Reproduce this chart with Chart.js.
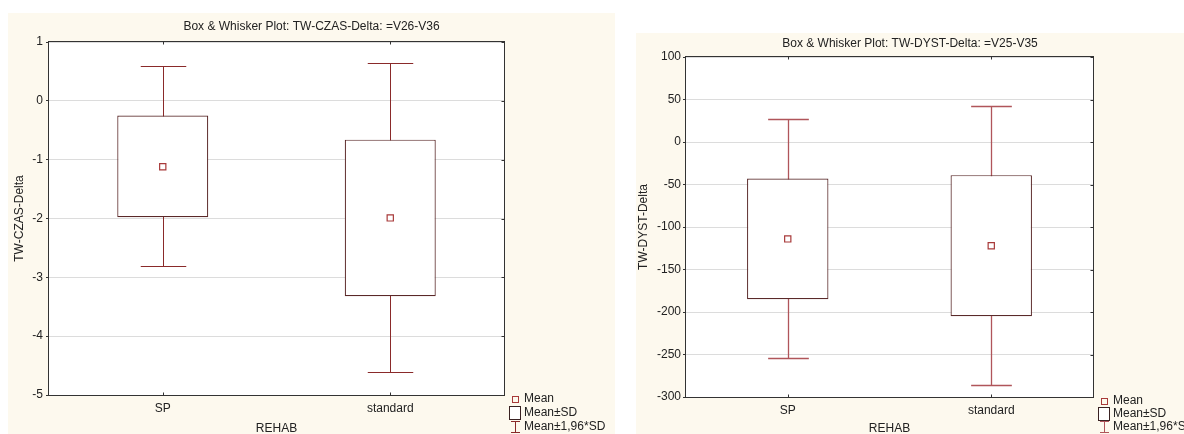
<!DOCTYPE html>
<html>
<head>
<meta charset="utf-8">
<title>Box &amp; Whisker Plots</title>
<script src="https://cdn.jsdelivr.net/npm/chart.js@4.4.1/dist/chart.umd.min.js"></script>
<style>
  html, body { margin: 0; padding: 0; background: #fff; }
  body { width: 1184px; height: 434px; position: relative; overflow: hidden; }
  .panel { position: absolute; }
  #panelCzas { left: 8px; top: 13px; }
  #panelDyst { left: 636px; top: 33px; }
</style>
</head>
<body>
<div class="panel" id="panelCzas"><canvas id="czasChart" width="607" height="421"></canvas></div>
<div class="panel" id="panelDyst"><canvas id="dystChart" width="548" height="401"></canvas></div>
<script>
const categories = ['SP', 'standard'];

// TW-CZAS-Delta: mean, mean±SD, mean±1.96*SD
const czasMean = [-1.12, -1.99];
const czasSdLow = [-1.98, -3.32];
const czasSdHigh = [-0.25, -0.66];
const czasCiLow = [-2.81, -4.61];
const czasCiHigh = [0.59, 0.64];
const czasTicks = [-5, -4, -3, -2, -1, 0, 1];

// TW-DYST-Delta
const dystMean = [-114, -122];
const dystSdLow = [-185, -205];
const dystSdHigh = [-43, -39];
const dystCiLow = [-254, -286];
const dystCiHigh = [27, 42];
const dystTicks = [-300, -250, -200, -150, -100, -50, 0, 50, 100];

const legendLabels = ['Mean', 'Mean±SD', 'Mean±1,96*SD'];

const FONT = "'Liberation Sans', Arial, sans-serif";
const TEXT = '#222222';
const CREAM = '#fdf9ee';
const FRAME = '#333333';
const MEAN_COLOR = '#a83a3a';

function makeBoxChart(id, cfg) {
    const font = { family: FONT, size: 12, weight: 'normal' };

    // cream panel with white plot area
    const panelBg = {
        id: 'panelBg',
        beforeDraw(chart) {
            const { ctx, chartArea: a } = chart;
            ctx.save();
            ctx.fillStyle = CREAM;
            ctx.fillRect(0, 0, chart.width, chart.height);
            ctx.fillStyle = '#ffffff';
            ctx.fillRect(a.left, a.top, a.right - a.left, a.bottom - a.top);
            ctx.restore();
        }
    };

    // whiskers drawn under the boxes, so the box fill hides the middle part
    const whiskers = {
        id: 'whiskers',
        beforeDatasetsDraw(chart) {
            const { ctx } = chart;
            const x = chart.scales.x, y = chart.scales.y;
            const bars = chart.getDatasetMeta(0).data;
            ctx.save();
            ctx.strokeStyle = cfg.whiskerColor;
            ctx.lineWidth = cfg.whiskerWidth;
            cfg.ciLow.forEach((lo, i) => {
                const cx = Math.round(x.getPixelForValue(i)) + 0.5;
                const half = bars[i].width / 4;
                const top = Math.round(y.getPixelForValue(cfg.ciHigh[i])) + 0.5;
                const bot = Math.round(y.getPixelForValue(lo)) + 0.5;
                ctx.beginPath();
                ctx.moveTo(cx, top); ctx.lineTo(cx, bot);
                ctx.moveTo(cx - half, top); ctx.lineTo(cx + half, top);
                ctx.moveTo(cx - half, bot); ctx.lineTo(cx + half, bot);
                ctx.stroke();
            });
            ctx.restore();
        }
    };

    // closed frame with small inward ticks
    const frame = {
        id: 'frame',
        afterDraw(chart) {
            const { ctx, chartArea: a } = chart;
            const x = chart.scales.x, y = chart.scales.y;
            const l = Math.round(a.left) - 0.5, r = Math.round(a.right) + 0.5;
            const t = Math.round(a.top) - 0.5, b = Math.round(a.bottom) + 0.5;
            ctx.save();
            ctx.strokeStyle = FRAME;
            ctx.lineWidth = 1;
            ctx.strokeRect(l, t, r - l, b - t);
            ctx.beginPath();
            categories.forEach((c, i) => {
                const px = Math.round(x.getPixelForValue(i)) + 0.5;
                ctx.moveTo(px, t); ctx.lineTo(px, t + 3);
                ctx.moveTo(px, b); ctx.lineTo(px, b - 3);
            });
            cfg.ticks.forEach(v => {
                const py = Math.round(y.getPixelForValue(v)) + 0.5;
                ctx.moveTo(r, py); ctx.lineTo(r - 3, py);
            });
            ctx.stroke();
            ctx.restore();
        }
    };

    const legend = {
        id: 'boxLegend',
        afterDraw(chart) {
            const { ctx, chartArea: a } = chart;
            const mx = Math.round(a.right) + 11;
            const tx = Math.round(a.right) + 20;
            const rows = legendLabels.map((_, i) => Math.round(a.bottom) + 4 + i * cfg.legendGap);
            ctx.save();
            ctx.lineWidth = 1;
            // Mean
            ctx.strokeStyle = MEAN_COLOR;
            ctx.strokeRect(mx - 2.5, rows[0] - 2.5, 6, 6);
            // Mean±SD
            ctx.fillStyle = '#ffffff';
            ctx.strokeStyle = '#3a2222';
            ctx.fillRect(mx - 5.5, rows[1] - 6.5, 11, 13);
            ctx.strokeRect(mx - 5.5, rows[1] - 6.5, 11, 13);
            // Mean±1,96*SD
            ctx.strokeStyle = cfg.whiskerColor;
            ctx.beginPath();
            ctx.moveTo(mx + 0.5, rows[2] - 6); ctx.lineTo(mx + 0.5, rows[2] + 6);
            ctx.moveTo(mx - 4, rows[2] - 5.5); ctx.lineTo(mx + 5, rows[2] - 5.5);
            ctx.moveTo(mx - 4, rows[2] + 5.5); ctx.lineTo(mx + 5, rows[2] + 5.5);
            ctx.stroke();
            ctx.fillStyle = TEXT;
            ctx.font = '12px ' + FONT;
            ctx.textAlign = 'left';
            ctx.textBaseline = 'middle';
            legendLabels.forEach((txt, i) => ctx.fillText(txt, tx, rows[i]));
            ctx.restore();
        }
    };

    const yMin = cfg.ticks[0];
    const yMax = cfg.ticks[cfg.ticks.length - 1];

    return new Chart(document.getElementById(id), {
        type: 'bar',
        data: {
            labels: categories,
            datasets: [
                {
                    type: 'bar',
                    label: 'Mean±SD',
                    data: cfg.sdLow.map((v, i) => [v, cfg.sdHigh[i]]),
                    backgroundColor: '#ffffff',
                    borderColor: cfg.boxColor,
                    borderWidth: 1.2,
                    borderSkipped: false,
                    barPercentage: 0.4,
                    categoryPercentage: 1,
                    order: 2
                },
                {
                    type: 'line',
                    label: 'Mean',
                    data: cfg.mean,
                    showLine: false,
                    pointStyle: 'rect',
                    pointRadius: 4.4,
                    pointBorderWidth: 1.2,
                    pointBorderColor: MEAN_COLOR,
                    pointBackgroundColor: '#ffffff',
                    order: 1
                }
            ]
        },
        options: {
            responsive: false,
            animation: false,
            events: [],
            layout: { padding: 0 },
            plugins: {
                legend: { display: false },
                tooltip: { enabled: false },
                title: {
                    display: true,
                    text: cfg.title,
                    color: TEXT,
                    font: font,
                    padding: cfg.titlePadding
                }
            },
            scales: {
                x: {
                    offset: true,
                    grid: { display: false, drawTicks: false },
                    border: { display: false },
                    ticks: { color: TEXT, font: font, padding: 6 },
                    title: {
                        display: true, text: 'REHAB', color: TEXT,
                        font: { family: FONT, size: 12, weight: 'normal', lineHeight: 0.9 },
                        padding: { top: 0, bottom: 0 }
                    },
                    afterFit(scale) { scale.height = cfg.xAxisHeight; }
                },
                y: {
                    min: yMin,
                    max: yMax,
                    ticks: { stepSize: cfg.ticks[1] - cfg.ticks[0], color: TEXT, font: font, padding: cfg.tickPad },
                    grid: { color: '#dcdcdc', tickLength: 3, tickColor: FRAME },
                    border: { display: false },
                    title: { display: true, text: cfg.yTitle, color: TEXT, font: font, padding: { top: cfg.yTitlePad, bottom: 0 } },
                    afterFit(scale) { scale.width = cfg.yAxisWidth; }
                },
                yRight: {
                    position: 'right',
                    min: yMin,
                    max: yMax,
                    grid: { display: false, drawTicks: false },
                    border: { display: false },
                    ticks: { display: false },
                    afterFit(scale) { scale.width = cfg.rightWidth; }
                }
            }
        },
        plugins: [panelBg, whiskers, frame, legend]
    });
}

makeBoxChart('czasChart', {
    title: 'Box & Whisker Plot: TW-CZAS-Delta: =V26-V36',
    yTitle: 'TW-CZAS-Delta',
    mean: czasMean, sdLow: czasSdLow, sdHigh: czasSdHigh,
    ciLow: czasCiLow, ciHigh: czasCiHigh, ticks: czasTicks,
    yAxisWidth: 41, xAxisHeight: 39, rightWidth: 111,
    titlePadding: { top: 6, bottom: 8.6 },
    tickPad: 3, yTitlePad: 4, legendGap: 14,
    whiskerColor: '#8a2a2a', whiskerWidth: 1, boxColor: '#5a2828'
});

makeBoxChart('dystChart', {
    title: 'Box & Whisker Plot: TW-DYST-Delta: =V25-V35',
    yTitle: 'TW-DYST-Delta',
    mean: dystMean, sdLow: dystSdLow, sdHigh: dystSdHigh,
    ciLow: dystCiLow, ciHigh: dystCiHigh, ticks: dystTicks,
    yAxisWidth: 50, xAxisHeight: 37, rightWidth: 91,
    titlePadding: { top: 3, bottom: 6.6 },
    tickPad: 2, yTitlePad: 0, legendGap: 13,
    whiskerColor: '#b0555a', whiskerWidth: 1.3, boxColor: '#5a2a2a'
});
</script>
</body>
</html>
